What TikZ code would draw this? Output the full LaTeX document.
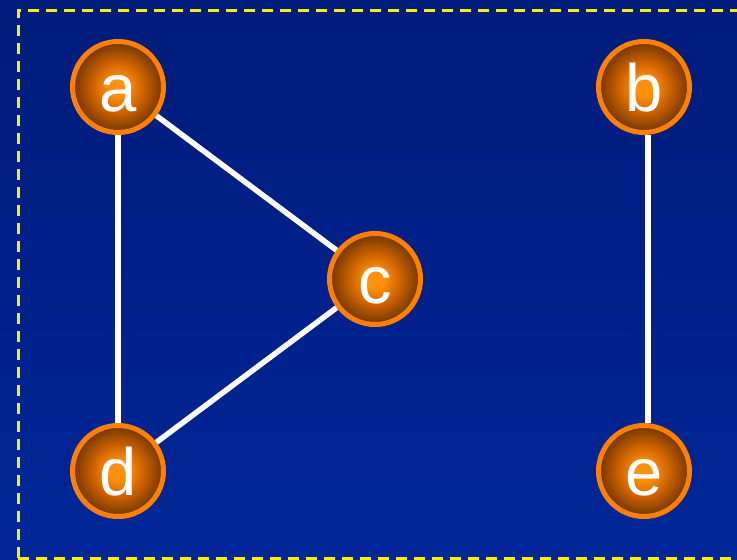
\documentclass[tikz,border=0pt]{standalone}
\usepackage{fontspec}
\setmainfont{Liberation Sans}
\usetikzlibrary{positioning}
\definecolor{skytop}{RGB}{0,27,122}
\definecolor{skybottom}{RGB}{0,38,152}
\definecolor{rimorange}{RGB}{255,128,0}
\definecolor{glowin}{RGB}{255,145,15}
\definecolor{glowmid}{RGB}{205,98,0}
\definecolor{glowout}{RGB}{112,54,0}
\definecolor{frameyellow}{RGB}{240,240,20}
\pgfdeclareradialshading{vertexglow}{\pgfpoint{0bp}{0bp}}{color(0bp)=(glowin); color(5bp)=(glowin); color(14bp)=(glowmid); color(25bp)=(glowout); color(50bp)=(glowout)}
\tikzset{vertex/.style={circle, draw=rimorange, line width=5pt, shading=vertexglow, minimum size=91pt, inner sep=0pt, text=white, text height=48pt, text depth=0pt, font=\fontsize{67}{67}\selectfont},
  link/.style={draw=white, line width=5.5pt},
  frame/.style={frameyellow, line width=3pt, dash pattern=on 11pt off 7pt}}

\begin{document}
\begin{tikzpicture}[x=1pt, y=-1pt]
\useasboundingbox (0,0) rectangle (737,560);
\shade[top color=skytop, bottom color=skybottom] (0,0) rectangle (737,560);
\draw[frame] (18,558) -- (18,10) -- (760,10);
\draw[frame] (18,558) -- (760,558);

\node[vertex] (a) at (118,87) {a};
\node[vertex] (b) at (644,87) {b};
\node[vertex] (c) at (375,279) {c};
\node[vertex] (d) at (118,471) {d};
\node[vertex] (e) at (644,471) {e};

\draw[link] (a) -- (d);
\draw[link] (a) -- (c);
\draw[link] (c) -- (d);
\draw[link] ([xshift=4pt]b.south) -- ([xshift=4pt]e.north);
\end{tikzpicture}
\end{document}
